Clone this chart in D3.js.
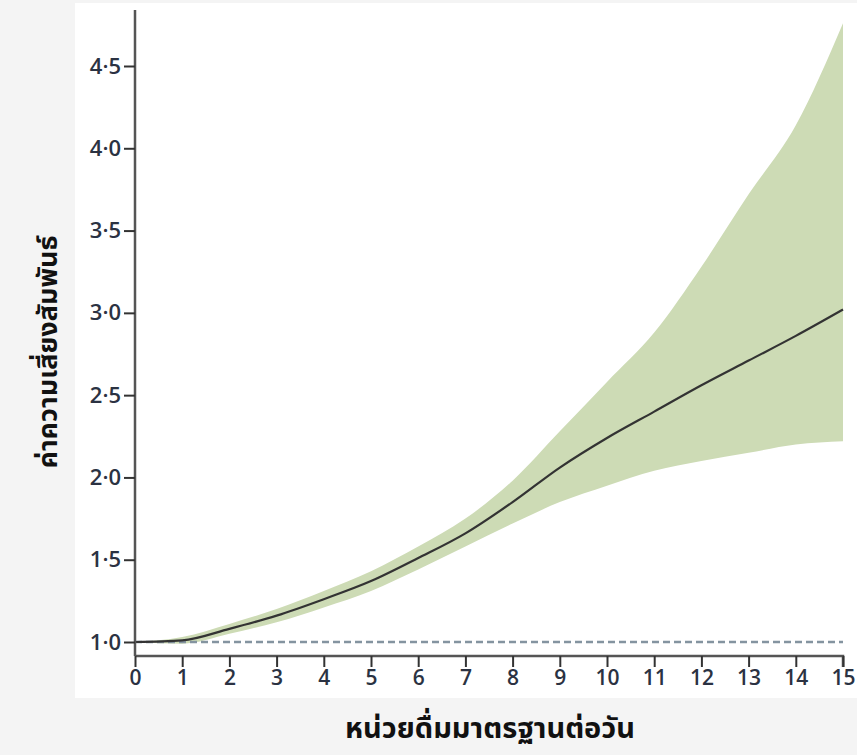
<!DOCTYPE html>
<html>
<head>
<meta charset="utf-8">
<script src="https://cdn.jsdelivr.net/npm/d3@7"></script>
<style>
  body { margin: 0; background: #f4f4f4; }
  .tick text { fill: #2b3242; }
</style>
</head>
<body>
<script>
  const drinks = [0, 1, 2, 3, 4, 5, 6, 7, 8, 9, 10, 11, 12, 13, 14, 15];
  const rr = [1.0, 1.01, 1.08, 1.16, 1.26, 1.37, 1.51, 1.66, 1.85, 2.06, 2.24, 2.40, 2.56, 2.71, 2.86, 3.02];
  const upper = [1.0, 1.03, 1.11, 1.20, 1.31, 1.43, 1.58, 1.75, 1.98, 2.28, 2.58, 2.88, 3.28, 3.72, 4.14, 4.76];
  const lower = [1.0, 0.99, 1.05, 1.12, 1.21, 1.31, 1.44, 1.58, 1.72, 1.85, 1.95, 2.04, 2.10, 2.15, 2.20, 2.22];
  const yTicks = [1.0, 1.5, 2.0, 2.5, 3.0, 3.5, 4.0, 4.5];
  const xTicks = d3.range(0, 16);

  const W = 857, H = 755;
  const svg = d3.select("body").append("svg")
    .attr("width", W).attr("height", H);

  // white plot panel
  svg.append("rect")
    .attr("x", 75).attr("y", 3)
    .attr("width", W - 75).attr("height", 695)
    .attr("fill", "#ffffff");

  const x = d3.scaleLinear().domain([0, 15]).range([135, 843]);
  const y = d3.scaleLinear().domain([1.0, 4.5]).range([642, 66]);

  const rows = drinks.map((d, i) => ({ x: d, m: rr[i], lo: lower[i], hi: upper[i] }));

  svg.append("path")
    .datum(rows)
    .attr("fill", "#cddbb5")
    .attr("d", d3.area()
      .x(d => x(d.x))
      .y0(d => y(d.lo))
      .y1(d => y(d.hi))
      .curve(d3.curveMonotoneX));

  // reference line at 1.0
  svg.append("line")
    .attr("x1", x(0)).attr("x2", x(15))
    .attr("y1", y(1)).attr("y2", y(1))
    .attr("stroke", "#8494a0")
    .attr("stroke-width", 2.5)
    .attr("stroke-dasharray", "7,4");

  svg.append("path")
    .datum(rows)
    .attr("fill", "none")
    .attr("stroke", "#333")
    .attr("stroke-width", 2.2)
    .attr("d", d3.line()
      .x(d => x(d.x))
      .y(d => y(d.m))
      .curve(d3.curveMonotoneX));

  // axes
  const fmt = d => d3.format(".1f")(d).replace(".", "\u00b7");

  const yAxis = svg.append("g")
    .attr("transform", `translate(${x(0)},0)`)
    .call(d3.axisLeft(y).tickValues(yTicks).tickFormat(fmt).tickSize(11).tickPadding(3).tickSizeOuter(0));
  yAxis.select(".domain").attr("d", `M0,656V10`);

  const xAxis = svg.append("g")
    .attr("transform", `translate(0,656)`)
    .call(d3.axisBottom(x).tickValues(xTicks).tickFormat(d3.format("d")).tickSize(11).tickPadding(3).tickSizeOuter(0));
  xAxis.select(".domain").attr("d", `M${x(0)},0H${x(15)}V11`);

  svg.selectAll(".domain").attr("stroke", "#555").attr("stroke-width", 2.5);
  svg.selectAll(".tick line").attr("stroke", "#333").attr("stroke-width", 2);
  yAxis.selectAll(".tick text")
    .attr("font-family", "'Open Sans', sans-serif")
    .attr("font-size", 22)
    .attr("font-weight", 600);
  xAxis.selectAll(".tick text")
    .attr("font-family", "'Open Sans', sans-serif")
    .attr("font-size", 21)
    .attr("font-weight", 600);

  // titles
  svg.append("text")
    .attr("transform", "translate(57,352) rotate(-90)")
    .attr("text-anchor", "middle")
    .attr("font-family", "'Noto Sans Thai', 'Noto Sans', sans-serif")
    .attr("font-weight", "bold")
    .attr("font-size", 27)
    .attr("fill", "#111")
    .text("ค่าความเสี่ยงสัมพันธ์");

  svg.append("text")
    .attr("x", 490).attr("y", 738)
    .attr("text-anchor", "middle")
    .attr("font-family", "'Noto Sans Thai', 'Noto Sans', sans-serif")
    .attr("font-weight", "bold")
    .attr("font-size", 29)
    .attr("fill", "#111")
    .text("หน่วยดื่มมาตรฐานต่อวัน");
</script>
</body>
</html>
